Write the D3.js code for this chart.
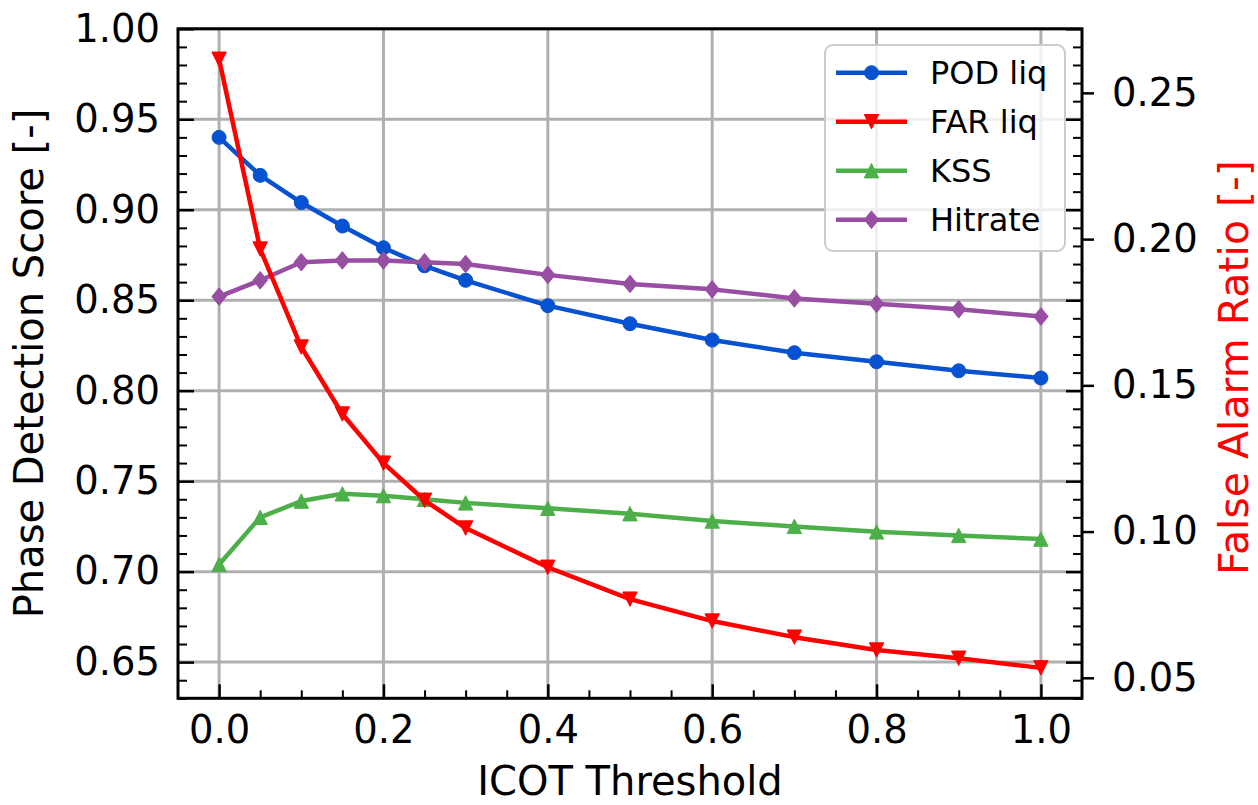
<!DOCTYPE html>
<html>
<head>
<meta charset="utf-8">
<script src="https://cdn.jsdelivr.net/npm/d3@7"></script>
<style>
  html, body { margin: 0; padding: 0; background: #fff; }
  svg { display: block; font-family: "DejaVu Sans", sans-serif; }
</style>
</head>
<body>
<svg id="chart" width="1258" height="805"></svg>
<script>
// ICOT threshold values on the x axis
const thresholds = [0.0, 0.05, 0.1, 0.15, 0.2, 0.25, 0.3, 0.4, 0.5, 0.6, 0.7, 0.8, 0.9, 1.0];

// Scores on the left axis
const podLiq  = [0.940, 0.919, 0.904, 0.891, 0.879, 0.869, 0.861, 0.847, 0.837, 0.828, 0.821, 0.816, 0.811, 0.807];
const kss     = [0.704, 0.730, 0.739, 0.743, 0.742, 0.740, 0.738, 0.735, 0.732, 0.728, 0.725, 0.722, 0.720, 0.718];
const hitrate = [0.852, 0.861, 0.871, 0.872, 0.872, 0.871, 0.870, 0.864, 0.859, 0.856, 0.851, 0.848, 0.845, 0.841];

// False alarm ratio on the right axis
const farLiq  = [0.2615, 0.1966, 0.1631, 0.1402, 0.1234, 0.1107, 0.1012, 0.0878, 0.0769, 0.0694, 0.0639, 0.0595, 0.0567, 0.0534];

// Tick values
const xTicks      = [0.0, 0.2, 0.4, 0.6, 0.8, 1.0];
const leftTicks   = [0.65, 0.70, 0.75, 0.80, 0.85, 0.90, 0.95, 1.00];
const rightTicks  = [0.05, 0.10, 0.15, 0.20, 0.25];
const legendNames = ["POD liq", "FAR liq", "KSS", "Hitrate"];

const svg = d3.select("#chart");
const box = { left: 178, right: 1082, top: 28.8, bottom: 698.3 };

const x  = d3.scaleLinear().domain([-0.05, 1.05]).range([box.left, box.right]);
const yL = d3.scaleLinear().domain([0.63, 1.00]).range([box.bottom, box.top]);
const [fMin, fMax] = d3.extent(farLiq);
const fPad = (fMax - fMin) * 0.05;
const yR = d3.scaleLinear().domain([fMin - fPad, fMax + fPad]).range([box.bottom, box.top]);

const xMinor = d3.range(0, 21).map(i => +(i * 0.05).toFixed(2)).filter(v => !xTicks.includes(v));
const yMinor = d3.range(63, 101).map(i => +(i / 100).toFixed(2)).filter(v => !leftTicks.some(t => Math.abs(t - v) < 1e-9));

const GRID = "#b0b0b0";
const TICK_FS = 38.5, TITLE_FS = 40, LEGEND_FS = 32;

// Grid
const grid = svg.append("g");
grid.selectAll("line.gx").data(xTicks).join("line")
  .attr("x1", d => x(d)).attr("x2", d => x(d))
  .attr("y1", box.top).attr("y2", box.bottom)
  .attr("stroke", GRID).attr("stroke-width", 3);
grid.selectAll("line.gy").data(leftTicks).join("line")
  .attr("x1", box.left).attr("x2", box.right)
  .attr("y1", d => yL(d)).attr("y2", d => yL(d))
  .attr("stroke", GRID).attr("stroke-width", 3);

// Series styling
const series = [
  { name: "POD liq", values: podLiq,  scale: yL, color: "#0652d0", marker: "circle" },
  { name: "KSS",     values: kss,     scale: yL, color: "#4daf4a", marker: "up" },
  { name: "Hitrate", values: hitrate, scale: yL, color: "#984ea3", marker: "diamond" },
  { name: "FAR liq", values: farLiq,  scale: yR, color: "#ff0000", marker: "down" }
];

function markerPath(kind) {
  if (kind === "circle") return d3.symbol(d3.symbolCircle, Math.PI * 7 * 7)();
  if (kind === "down") { const s = 7.2; return `M0,${s}L${-s},${-s}L${s},${-s}Z`; }
  if (kind === "up")   { const s = 7.2; return `M0,${-s}L${-s},${s}L${s},${s}Z`; }
  const w = 7.2, h = 8.8;
  return `M0,${-h}L${w},0L0,${h}L${-w},0Z`;
}

const plot = svg.append("g");
series.forEach(s => {
  const line = d3.line().x((d, i) => x(thresholds[i])).y(d => s.scale(d));
  plot.append("path").datum(s.values)
    .attr("d", line).attr("fill", "none")
    .attr("stroke", s.color).attr("stroke-width", 4.5)
    .attr("stroke-linejoin", "round").attr("stroke-linecap", "butt");
  plot.append("g").selectAll("path").data(s.values).join("path")
    .attr("d", markerPath(s.marker))
    .attr("transform", (d, i) => `translate(${x(thresholds[i])},${s.scale(d)})`)
    .attr("fill", s.color).attr("stroke", s.color).attr("stroke-width", 1);
});

// Frame
svg.append("rect")
  .attr("x", box.left).attr("y", box.top)
  .attr("width", box.right - box.left).attr("height", box.bottom - box.top)
  .attr("fill", "none").attr("stroke", "#000").attr("stroke-width", 3);

function styleAxis(g, fs) {
  g.select(".domain").remove();
  g.attr("font-family", "DejaVu Sans, sans-serif").attr("font-size", fs);
  g.selectAll("line").attr("stroke", "#000");
  g.selectAll("text").attr("fill", "#000");
}

// Bottom axis: inward ticks
const bx = svg.append("g").attr("transform", `translate(0,${box.bottom})`)
  .call(d3.axisBottom(x).tickValues(xTicks).tickSize(-14).tickPadding(17).tickFormat(d3.format(".1f")));
styleAxis(bx, TICK_FS);
bx.selectAll("line").attr("stroke-width", 2.5);
const bxm = svg.append("g").attr("transform", `translate(0,${box.bottom})`)
  .call(d3.axisBottom(x).tickValues(xMinor).tickSize(-8).tickFormat(""));
styleAxis(bxm, TICK_FS);
bxm.selectAll("line").attr("stroke-width", 2);

// Left axis: inward ticks, mirrored on the right spine
const ly = svg.append("g").attr("transform", `translate(${box.left},0)`)
  .call(d3.axisLeft(yL).tickValues(leftTicks).tickSize(-16).tickPadding(18).tickFormat(d3.format(".2f")));
styleAxis(ly, TICK_FS);
ly.selectAll("line").attr("stroke-width", 2.5);
const lym = svg.append("g").attr("transform", `translate(${box.left},0)`)
  .call(d3.axisLeft(yL).tickValues(yMinor).tickSize(-9).tickFormat(""));
styleAxis(lym, TICK_FS);
lym.selectAll("line").attr("stroke-width", 2);

const ry = svg.append("g").attr("transform", `translate(${box.right},0)`)
  .call(d3.axisRight(yL).tickValues(leftTicks).tickSize(-16).tickFormat(""));
styleAxis(ry, TICK_FS);
ry.selectAll("line").attr("stroke-width", 2.5);
const rym = svg.append("g").attr("transform", `translate(${box.right},0)`)
  .call(d3.axisRight(yL).tickValues(yMinor).tickSize(-9).tickFormat(""));
styleAxis(rym, TICK_FS);
rym.selectAll("line").attr("stroke-width", 2);

// Right axis for the false alarm ratio: outward ticks
const rr = svg.append("g").attr("transform", `translate(${box.right},0)`)
  .call(d3.axisRight(yR).tickValues(rightTicks).tickSize(12).tickPadding(18).tickFormat(d3.format(".2f")));
styleAxis(rr, TICK_FS);
rr.selectAll("line").attr("stroke-width", 2.5);

// Axis titles
svg.append("text")
  .attr("x", (box.left + box.right) / 2).attr("y", 795)
  .attr("text-anchor", "middle").attr("font-size", TITLE_FS).attr("fill", "#000")
  .text("ICOT Threshold");
svg.append("text")
  .attr("transform", `translate(43,${(box.top + box.bottom) / 2}) rotate(-90)`)
  .attr("text-anchor", "middle").attr("font-size", TITLE_FS).attr("fill", "#000")
  .text("Phase Detection Score [-]");
svg.append("text")
  .attr("transform", `translate(1248,${(box.top + box.bottom) / 2 + 4}) rotate(-90)`)
  .attr("text-anchor", "middle").attr("font-size", 41).attr("fill", "#ff0000")
  .text("False Alarm Ratio [-]");

// Legend
const legend = svg.append("g");
legend.append("rect")
  .attr("x", 825).attr("y", 45).attr("width", 240).attr("height", 206).attr("rx", 8)
  .attr("fill", "#fff").attr("fill-opacity", 0.8)
  .attr("stroke", "#cccccc").attr("stroke-width", 2);
const legendRows = legendNames.map(n => series.find(s => s.name === n));
const row = legend.selectAll("g.row").data(legendRows).join("g")
  .attr("transform", (d, i) => `translate(0,${72.7 + i * 49})`);
row.append("line").attr("x1", 836).attr("x2", 907).attr("y1", 0).attr("y2", 0)
  .attr("stroke", d => d.color).attr("stroke-width", 4.5);
row.append("path").attr("d", d => markerPath(d.marker))
  .attr("transform", "translate(871.5,0)")
  .attr("fill", d => d.color).attr("stroke", d => d.color).attr("stroke-width", 1);
row.append("text").attr("x", 930).attr("y", 0).attr("dy", "0.36em")
  .attr("font-size", LEGEND_FS).attr("fill", "#000")
  .text(d => d.name);
</script>
</body>
</html>
